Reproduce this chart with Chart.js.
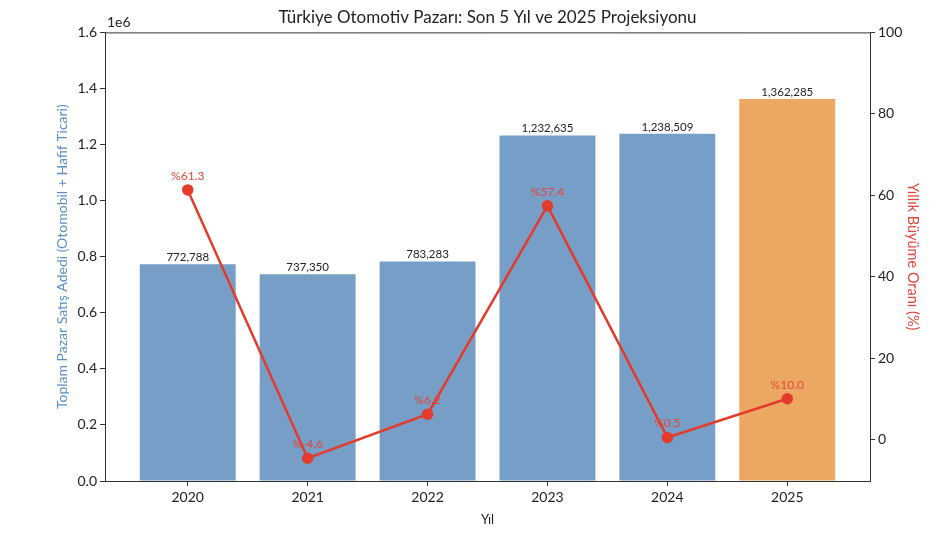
<!DOCTYPE html>
<html>
<head>
    <title>Türkiye Otomotiv Pazarı</title>
    <script src="https://cdn.jsdelivr.net/npm/chart.js"></script>
    <style>
        body { margin: 0; padding: 0; background: white; }
        .chart-container { width: 945px; height: 544px; }
    </style>
</head>
<body>
    <div class="chart-container">
        <canvas id="marketChart"></canvas>
    </div>

    <script>
        // veriler
        const years = ['2020', '2021', '2022', '2023', '2024', '2025'];
        const sales = [772788, 737350, 783283, 1232635, 1238509, 1362285];
        const growth = [61.3, -4.6, 6.2, 57.4, 0.5, 10.0];
        const salesTicks = [0, 200000, 400000, 600000, 800000, 1000000, 1200000, 1400000, 1600000];
        const growthTicks = [0, 20, 40, 60, 80, 100];

        const FONT = 'Lato, "Open Sans", sans-serif';
        const barColors = years.map((y, i) => i === years.length - 1 ? '#eca862' : '#769ec6');

        // etiketler, 1e6 yazısı ve üst çerçeve
        const extras = {
            id: 'extras',
            afterDatasetsDraw(chart) {
                const { ctx, chartArea, scales } = chart;
                ctx.save();
                // üst çizgi
                ctx.strokeStyle = '#333';
                ctx.lineWidth = 1;
                ctx.beginPath();
                ctx.moveTo(chartArea.left, chartArea.top + 0.5);
                ctx.lineTo(chartArea.right, chartArea.top + 0.5);
                ctx.stroke();

                ctx.font = '14px ' + FONT;
                ctx.fillStyle = '#222';
                ctx.textAlign = 'left';
                ctx.textBaseline = 'bottom';
                ctx.fillText('1e6', chartArea.left + 2, chartArea.top - 3);

                // bar değerleri
                ctx.font = '11.5px ' + FONT;
                ctx.textAlign = 'center';
                ctx.fillStyle = '#222';
                sales.forEach((v, i) => {
                    const x = scales.x.getPixelForValue(i);
                    const y = scales.y.getPixelForValue(v);
                    ctx.fillText(v.toLocaleString('en-US'), x, y - 1);
                });

                // büyüme oranları
                ctx.font = '12px ' + FONT;
                ctx.fillStyle = '#e3483c';
                growth.forEach((g, i) => {
                    const x = scales.x.getPixelForValue(i);
                    const y = scales.y2.getPixelForValue(g);
                    ctx.fillText('%' + g.toFixed(1), x, y - 8);
                });
                ctx.restore();
            }
        };

        const ctx = document.getElementById('marketChart').getContext('2d');
        const chart = new Chart(ctx, {
            data: {
                datasets: [
                    {
                        type: 'line',
                        label: 'Büyüme',
                        data: growth.map((g, i) => ({ x: i, y: g })),
                        yAxisID: 'y2',
                        borderColor: '#e33b2c',
                        backgroundColor: '#e33b2c',
                        borderWidth: 2.5,
                        pointRadius: 4.5,
                        pointHoverRadius: 4.5,
                        tension: 0,
                        order: 0
                    },
                    {
                        type: 'bar',
                        label: 'Satış',
                        data: sales.map((v, i) => ({ x: i, y: v })),
                        yAxisID: 'y',
                        backgroundColor: barColors,
                        borderWidth: 0,
                        barPercentage: 0.8,
                        categoryPercentage: 1,
                        order: 1
                    }
                ]
            },
            options: {
                responsive: true,
                maintainAspectRatio: false,
                animation: false,
                layout: { padding: { left: 30, right: 0, top: 7, bottom: 16 } },
                scales: {
                    x: {
                        type: 'linear',
                        offset: false,
                        min: -0.69,
                        max: 5.69,
                        afterBuildTicks: s => { s.ticks = years.map((y, i) => ({ value: i })); },
                        afterFit: s => { s.height = 47; },
                        ticks: {
                            callback: v => years[v],
                            color: '#222',
                            font: { family: FONT, size: 14 },
                            padding: 3
                        },
                        grid: { display: true, offset: false, drawOnChartArea: false, tickLength: 5, color: '#333' },
                        border: { color: '#333', width: 1 },
                        title: {
                            display: true,
                            text: 'Yıl',
                            color: '#222',
                            font: { family: FONT, size: 13 },
                            padding: { top: 2, bottom: 0 }
                        }
                    },
                    y: {
                        position: 'left',
                        min: 0,
                        max: 1600000,
                        afterBuildTicks: s => { s.ticks = salesTicks.map(v => ({ value: v })); },
                        afterFit: s => { s.width = 75; },
                        ticks: {
                            callback: v => (v / 1e6).toFixed(1),
                            color: '#222',
                            font: { family: FONT, size: 14 },
                            padding: 3
                        },
                        grid: { display: true, drawOnChartArea: false, tickLength: 5, color: '#333' },
                        border: { color: '#333', width: 1 },
                        title: {
                            display: true,
                            text: 'Toplam Pazar Satış Adedi (Otomobil + Hafif Ticari)',
                            color: '#5b8fc7',
                            font: { family: FONT, size: 14 },
                            padding: { top: 24, bottom: 0 }
                        }
                    },
                    y2: {
                        position: 'right',
                        min: -10.2,
                        max: 100,
                        afterBuildTicks: s => { s.ticks = growthTicks.map(v => ({ value: v })); },
                        afterFit: s => { s.width = 75; },
                        ticks: {
                            color: '#222',
                            font: { family: FONT, size: 14 },
                            padding: 3
                        },
                        grid: { display: true, drawOnChartArea: false, tickLength: 5, color: '#333' },
                        border: { color: '#333', width: 1 },
                        title: {
                            display: true,
                            text: 'Yıllık Büyüme Oranı (%)',
                            color: '#e3483c',
                            font: { family: FONT, size: 14.5 },
                            padding: { top: 24, bottom: 0 }
                        }
                    }
                },
                plugins: {
                    legend: { display: false },
                    tooltip: { enabled: false },
                    title: {
                        display: true,
                        fullSize: false,
                        text: 'Türkiye Otomotiv Pazarı: Son 5 Yıl ve 2025 Projeksiyonu',
                        color: '#222',
                        font: { family: FONT, size: 17, weight: 'normal' },
                        padding: { top: 0, bottom: 5 }
                    }
                }
            },
            plugins: [extras]
        });
    </script>
</body>
</html>
